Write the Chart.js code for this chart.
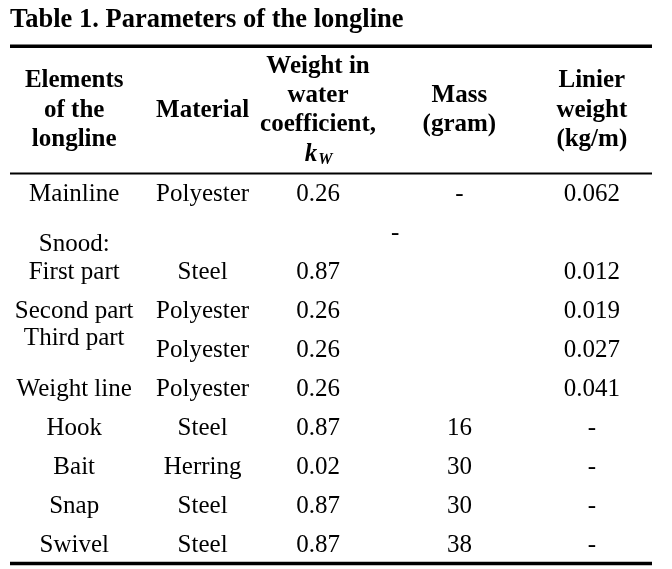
<!DOCTYPE html>
<html>
<head>
<meta charset="utf-8">
<script src="https://cdn.jsdelivr.net/npm/chart.js@4.4.1/dist/chart.umd.min.js"></script>
<style>
  html, body { margin: 0; padding: 0; background: #fff; }
  #wrap { width: 672px; height: 569px; }
</style>
</head>
<body>
<div id="wrap"><canvas id="tableChart"></canvas></div>
<script>
// table content
var headers = [
  ['Elements', 'of the', 'longline'],
  ['Material'],
  ['Weight in', 'water', 'coefficient,', 'k_W'],
  ['Mass', '(gram)'],
  ['Linier', 'weight', '(kg/m)']
];

var elements = ['Mainline', 'Snood:', 'First part', 'Second part', 'Third part', 'Weight line', 'Hook', 'Bait', 'Snap', 'Swivel'];
var elementRows = [0, 1.3, 2, 3, 3.7, 5, 6, 7, 8, 9];
var bodyRows = [0, 1, 2, 3, 4, 5, 6, 7, 8, 9];
var materials = ['Polyester', '', 'Steel', 'Polyester', 'Polyester', 'Polyester', 'Steel', 'Herring', 'Steel', 'Steel'];
var kwValues = ['0.26', '', '0.87', '0.26', '0.26', '0.26', '0.87', '0.02', '0.87', '0.87'];
var massValues = ['-', '', '', '', '', '', '16', '30', '30', '38'];
var linearWeights = ['0.062', '', '0.012', '0.019', '0.027', '0.041', '-', '-', '-', '-'];
// dash sitting between the kW and mass columns for the snood rows
var snoodDash = { text: '-', col: 2.5, row: 1 };

// layout (in row units of the y scale)
var headerRow = -2.15;
var headerLineStep = 0.75;
var ruleRows = [-3.79, -0.53, 9.46];
var ruleWidths = [3.5, 2, 3.5];
var colNudge = [0, 0, -13, 0, 4];

var ink = '#000';
var bodyFont = '25px "Liberation Serif", "Times New Roman", serif';
var headFont = 'bold 25px "Liberation Serif", "Times New Roman", serif';

function cellData(col, rows) {
  return rows.map(function(r) { return { x: col, y: r }; });
}

var datasets = [];

// header cells
datasets.push({
  data: headers.map(function(h, i) { return { x: i, y: headerRow }; }),
  labels: headers,
  font: headFont,
  pointRadius: 0
});

// body columns
var bodyCols = [
  { texts: elements, rows: elementRows },
  { texts: materials, rows: bodyRows },
  { texts: kwValues, rows: bodyRows },
  { texts: massValues, rows: bodyRows },
  { texts: linearWeights, rows: bodyRows }
];
bodyCols.forEach(function(c, i) {
  datasets.push({
    data: cellData(i, c.rows),
    labels: c.texts.map(function(t) { return [t]; }),
    font: bodyFont,
    pointRadius: 0
  });
});

datasets.push({
  data: [{ x: snoodDash.col, y: snoodDash.row }],
  labels: [[snoodDash.text]],
  font: bodyFont,
  noNudge: true,
  pointRadius: 0
});

// horizontal rules
ruleRows.forEach(function(r, i) {
  datasets.push({
    data: [{ x: -0.5, y: r }, { x: 4.5, y: r }],
    showLine: true,
    borderColor: ink,
    borderWidth: ruleWidths[i],
    borderCapStyle: 'butt',
    pointRadius: 0
  });
});

var tableText = {
  id: 'tableText',
  afterDatasetsDraw: function(chart) {
    var ctx = chart.ctx;
    var yScale = chart.scales.y;
    var stepPx = yScale.getPixelForValue(headerLineStep) - yScale.getPixelForValue(0);
    ctx.save();
    ctx.fillStyle = ink;
    ctx.textBaseline = 'middle';
    chart.data.datasets.forEach(function(ds, i) {
      if (!ds.labels) return;
      var meta = chart.getDatasetMeta(i);
      meta.data.forEach(function(pt, j) {
        var lines = ds.labels[j];
        var x = pt.x + (ds.noNudge ? 0 : colNudge[Math.round(ds.data[j].x)]);
        lines.forEach(function(line, k) {
          if (!line) return;
          var y = pt.y + (k - (lines.length - 1) / 2) * stepPx;
          if (line.indexOf('_') > 0) {
            // italic symbol with subscript
            var parts = line.split('_');
            var mainFont = 'italic ' + ds.font;
            var subFont = 'italic bold 16px "Liberation Serif", serif';
            ctx.font = mainFont;
            var w1 = ctx.measureText(parts[0]).width;
            ctx.font = subFont;
            var w2 = ctx.measureText(parts[1]).width;
            var left = x - (w1 + w2) / 2;
            ctx.textAlign = 'left';
            ctx.font = mainFont;
            ctx.fillText(parts[0], left, y);
            ctx.font = subFont;
            ctx.fillText(parts[1], left + w1 + 1, y + 6);
          } else {
            ctx.font = ds.font;
            ctx.textAlign = 'center';
            ctx.fillText(line, x, y);
          }
        });
      });
    });
    ctx.restore();
  }
};

new Chart(document.getElementById('tableChart'), {
  type: 'scatter',
  data: { datasets: datasets },
  options: {
    responsive: true,
    maintainAspectRatio: false,
    animation: false,
    layout: { padding: { left: 10, right: 20, top: 0, bottom: 0 } },
    scales: {
      x: { type: 'linear', min: -0.5, max: 4.5, display: false },
      y: { type: 'linear', min: -4, max: 9.6, reverse: true, display: false }
    },
    plugins: {
      legend: { display: false },
      tooltip: { enabled: false },
      title: {
        display: true,
        text: 'Table 1. Parameters of the longline',
        align: 'start',
        color: ink,
        font: { family: '"Liberation Serif", "Times New Roman", serif', size: 26.5, weight: 'bold', lineHeight: 1 },
        padding: { top: 7, bottom: 4.5 }
      }
    }
  },
  plugins: [tableText]
});
</script>
</body>
</html>
